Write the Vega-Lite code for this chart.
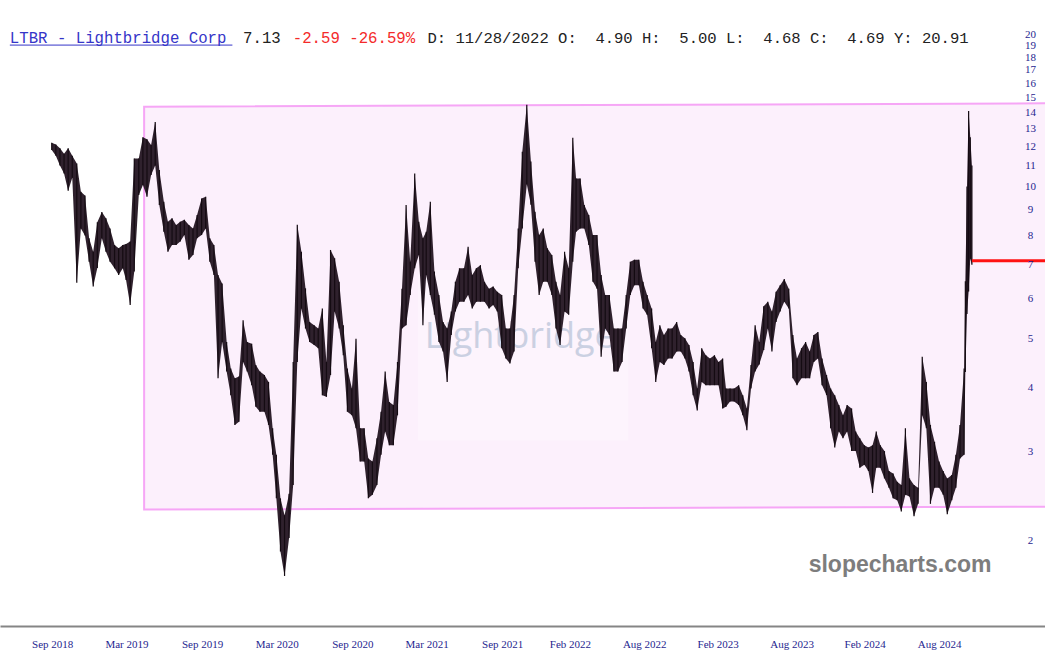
{
  "$schema": "https://vega.github.io/schema/vega-lite/v6.json",
  "width": 1045,
  "height": 626,
  "autosize": {"type": "none"},
  "padding": {"left": 0, "top": 0, "right": 0, "bottom": 41},
  "background": "white",
  "config": {"view": {"stroke": null}},
  "datasets": {
    "box": [
      {"d": "2019-04-14", "top": 14.37, "bot": 2.30},
      {"d": "2025-06-15", "top": 14.6, "bot": 2.33}
    ],
    "last": [{"d": "2024-10-20", "d2": "2025-04-16", "v": 7.13}],
    "px": [
      {"d":"2018-09-01","h":12.2,"l":11.8},{"d":"2018-09-11","h":12.1,"l":11.5},{"d":"2018-09-21","h":11.9,"l":11.0},
      {"d":"2018-10-01","h":11.6,"l":10.6},{"d":"2018-10-11","h":11.9,"l":9.8},{"d":"2018-10-21","h":11.5,"l":10.4},
      {"d":"2018-11-01","h":11.1,"l":6.45},{"d":"2018-11-11","h":9.76,"l":8.26},{"d":"2018-11-21","h":9.6,"l":8.0},
      {"d":"2018-12-01","h":7.9,"l":7.1},{"d":"2018-12-11","h":7.43,"l":6.34},{"d":"2018-12-21","h":8.5,"l":6.9},
      {"d":"2019-01-01","h":8.9,"l":7.9},{"d":"2019-01-11","h":8.65,"l":7.43},{"d":"2019-01-21","h":8.26,"l":7.1},
      {"d":"2019-02-01","h":7.66,"l":6.89},{"d":"2019-02-11","h":7.55,"l":6.68},{"d":"2019-02-21","h":7.66,"l":6.89},
      {"d":"2019-03-01","h":7.7,"l":6.53},{"d":"2019-03-11","h":7.78,"l":5.83},{"d":"2019-03-21","h":11.36,"l":6.79},
      {"d":"2019-04-01","h":11.36,"l":9.62},{"d":"2019-04-11","h":12.5,"l":10.06},{"d":"2019-04-21","h":12.4,"l":9.54},
      {"d":"2019-05-01","h":12.07,"l":10.53},{"d":"2019-05-11","h":13.4,"l":11.0},{"d":"2019-05-21","h":10.78,"l":9.19},
      {"d":"2019-06-01","h":9.33,"l":8.14},{"d":"2019-06-11","h":8.52,"l":7.43},{"d":"2019-06-21","h":8.65,"l":7.66},
      {"d":"2019-07-01","h":8.39,"l":7.66},{"d":"2019-07-11","h":8.52,"l":7.78},{"d":"2019-07-21","h":8.59,"l":8.02},
      {"d":"2019-08-01","h":8.39,"l":7.16},{"d":"2019-08-11","h":8.26,"l":7.32},{"d":"2019-08-21","h":8.78,"l":7.9},
      {"d":"2019-09-01","h":9.47,"l":8.02},{"d":"2019-09-11","h":9.54,"l":8.26},{"d":"2019-09-21","h":7.9,"l":7.1},
      {"d":"2019-10-01","h":7.66,"l":6.68},{"d":"2019-10-11","h":6.68,"l":4.18},{"d":"2019-10-21","h":6.43,"l":4.93},
      {"d":"2019-11-01","h":4.93,"l":4.31},{"d":"2019-11-11","h":4.37,"l":3.87},{"d":"2019-11-21","h":4.18,"l":3.38},
      {"d":"2019-12-01","h":4.21,"l":3.43},{"d":"2019-12-11","h":5.44,"l":4.5},{"d":"2019-12-21","h":4.93,"l":4.31},
      {"d":"2020-01-01","h":4.89,"l":4.05},{"d":"2020-01-11","h":4.44,"l":3.67},{"d":"2020-01-21","h":4.31,"l":3.59},
      {"d":"2020-02-01","h":4.24,"l":3.59},{"d":"2020-02-11","h":4.11,"l":3.38},{"d":"2020-02-21","h":3.33,"l":2.95},
      {"d":"2020-03-01","h":2.95,"l":2.42},{"d":"2020-03-11","h":2.42,"l":1.9},{"d":"2020-03-21","h":2.24,"l":1.7},
      {"d":"2020-04-01","h":2.47,"l":2.02},{"d":"2020-04-11","h":4.5,"l":2.57},{"d":"2020-04-21","h":8.4,"l":4.5},
      {"d":"2020-05-01","h":7.43,"l":5.74},{"d":"2020-05-11","h":6.29,"l":5.24},{"d":"2020-05-21","h":5.4,"l":4.93},
      {"d":"2020-06-01","h":5.32,"l":4.86},{"d":"2020-06-11","h":5.24,"l":4.79},{"d":"2020-06-21","h":5.74,"l":3.87},
      {"d":"2020-07-01","h":4.5,"l":3.84},{"d":"2020-07-11","h":7.49,"l":4.24},{"d":"2020-07-21","h":7.21,"l":5.66},
      {"d":"2020-08-01","h":6.48,"l":5.24},{"d":"2020-08-11","h":5.32,"l":4.64},{"d":"2020-08-21","h":4.37,"l":3.59},
      {"d":"2020-09-01","h":3.99,"l":3.53},{"d":"2020-09-11","h":5.0,"l":3.33},{"d":"2020-09-21","h":3.33,"l":2.86},
      {"d":"2020-10-01","h":3.33,"l":2.86},{"d":"2020-10-11","h":2.9,"l":2.42},{"d":"2020-10-21","h":2.86,"l":2.46},
      {"d":"2020-11-01","h":3.18,"l":2.57},{"d":"2020-11-11","h":3.59,"l":2.95},{"d":"2020-11-21","h":4.31,"l":3.28},
      {"d":"2020-12-01","h":3.75,"l":3.08},{"d":"2020-12-11","h":3.7,"l":3.08},{"d":"2020-12-21","h":4.5,"l":3.53},
      {"d":"2021-01-01","h":6.28,"l":5.24},{"d":"2021-01-11","h":9.19,"l":5.32},{"d":"2021-01-21","h":7.1,"l":6.1},
      {"d":"2021-02-01","h":10.6,"l":6.89},{"d":"2021-02-11","h":8.52,"l":7.32},{"d":"2021-02-21","h":7.9,"l":5.32},
      {"d":"2021-03-01","h":8.14,"l":6.68},{"d":"2021-03-11","h":9.33,"l":6.1},{"d":"2021-03-21","h":6.79,"l":5.58},
      {"d":"2021-04-01","h":6.1,"l":4.93},{"d":"2021-04-11","h":5.4,"l":4.72},{"d":"2021-04-21","h":5.24,"l":4.11},
      {"d":"2021-05-01","h":5.66,"l":5.09},{"d":"2021-05-11","h":6.48,"l":5.66},{"d":"2021-05-21","h":6.89,"l":5.92},
      {"d":"2021-06-01","h":6.89,"l":5.92},{"d":"2021-06-11","h":7.6,"l":6.1},{"d":"2021-06-21","h":6.68,"l":5.74},
      {"d":"2021-07-01","h":6.89,"l":5.92},{"d":"2021-07-11","h":6.99,"l":5.92},{"d":"2021-07-21","h":6.48,"l":5.92},
      {"d":"2021-08-01","h":6.28,"l":5.74},{"d":"2021-08-11","h":6.34,"l":5.83},{"d":"2021-08-21","h":6.19,"l":5.66},
      {"d":"2021-09-01","h":6.1,"l":4.79},{"d":"2021-09-11","h":5.24,"l":4.57},{"d":"2021-09-21","h":5.24,"l":4.47},
      {"d":"2021-10-01","h":6.1,"l":4.72},{"d":"2021-10-11","h":8.26,"l":6.89},{"d":"2021-10-21","h":11.71,"l":8.26},
      {"d":"2021-11-01","h":14.5,"l":10.1},{"d":"2021-11-11","h":11.2,"l":9.2},{"d":"2021-11-21","h":8.91,"l":7.1},
      {"d":"2021-12-01","h":8.02,"l":6.1},{"d":"2021-12-11","h":8.26,"l":6.48},{"d":"2021-12-21","h":7.55,"l":6.48},
      {"d":"2022-01-01","h":7.32,"l":6.1},{"d":"2022-01-11","h":6.48,"l":5.24},{"d":"2022-01-21","h":6.1,"l":4.86},
      {"d":"2022-02-01","h":7.43,"l":5.66},{"d":"2022-02-11","h":6.89,"l":5.58},{"d":"2022-02-21","h":12.48,"l":7.1},
      {"d":"2022-03-01","h":10.37,"l":8.14},{"d":"2022-03-11","h":10.37,"l":8.26},{"d":"2022-03-21","h":9.19,"l":8.26},
      {"d":"2022-04-01","h":8.78,"l":7.66},{"d":"2022-04-11","h":8.02,"l":6.48},{"d":"2022-04-21","h":8.02,"l":6.28},
      {"d":"2022-05-01","h":6.68,"l":4.61},{"d":"2022-05-11","h":6.1,"l":5.24},{"d":"2022-05-21","h":6.1,"l":5.09},
      {"d":"2022-06-01","h":5.24,"l":4.31},{"d":"2022-06-11","h":5.24,"l":4.31},{"d":"2022-06-21","h":5.24,"l":4.5},
      {"d":"2022-07-01","h":6.1,"l":5.24},{"d":"2022-07-11","h":7.1,"l":6.1},{"d":"2022-07-21","h":7.16,"l":6.38},
      {"d":"2022-08-01","h":7.16,"l":6.38},{"d":"2022-08-11","h":6.48,"l":5.74},{"d":"2022-08-21","h":6.1,"l":5.58},
      {"d":"2022-09-01","h":5.74,"l":4.79},{"d":"2022-09-11","h":4.93,"l":4.11},{"d":"2022-09-21","h":5.32,"l":4.5},
      {"d":"2022-10-01","h":5.09,"l":4.44},{"d":"2022-10-11","h":5.24,"l":4.57},{"d":"2022-10-21","h":5.24,"l":4.57},
      {"d":"2022-11-01","h":5.4,"l":4.72},{"d":"2022-11-11","h":5.09,"l":4.72},{"d":"2022-11-21","h":5.01,"l":4.57},
      {"d":"2022-12-01","h":4.86,"l":4.31},{"d":"2022-12-11","h":4.5,"l":3.87},{"d":"2022-12-21","h":3.99,"l":3.61},
      {"d":"2023-01-01","h":4.79,"l":4.11},{"d":"2023-01-11","h":4.64,"l":4.05},{"d":"2023-01-21","h":4.57,"l":4.05},
      {"d":"2023-02-01","h":4.64,"l":4.05},{"d":"2023-02-11","h":4.5,"l":4.05},{"d":"2023-02-21","h":4.57,"l":3.64},
      {"d":"2023-03-01","h":3.99,"l":3.67},{"d":"2023-03-11","h":3.99,"l":3.76},{"d":"2023-03-21","h":3.99,"l":3.76},
      {"d":"2023-04-01","h":4.05,"l":3.7},{"d":"2023-04-11","h":3.87,"l":3.53},{"d":"2023-04-21","h":3.64,"l":3.3},
      {"d":"2023-05-01","h":4.44,"l":3.99},{"d":"2023-05-11","h":5.32,"l":4.31},{"d":"2023-05-21","h":4.93,"l":4.45},
      {"d":"2023-06-01","h":5.8,"l":4.75},{"d":"2023-06-11","h":5.92,"l":5.24},{"d":"2023-06-21","h":5.66,"l":4.72},
      {"d":"2023-07-01","h":6.19,"l":5.4},{"d":"2023-07-11","h":6.38,"l":5.66},{"d":"2023-07-21","h":6.56,"l":5.92},
      {"d":"2023-08-01","h":6.28,"l":5.74},{"d":"2023-08-11","h":5.09,"l":4.18},{"d":"2023-08-21","h":4.57,"l":4.05},
      {"d":"2023-09-01","h":4.79,"l":4.18},{"d":"2023-09-11","h":4.93,"l":4.18},{"d":"2023-09-21","h":4.72,"l":4.18},
      {"d":"2023-10-01","h":5.09,"l":4.5},{"d":"2023-10-11","h":5.16,"l":4.57},{"d":"2023-10-21","h":4.57,"l":4.05},
      {"d":"2023-11-01","h":4.24,"l":3.87},{"d":"2023-11-11","h":3.99,"l":3.33},{"d":"2023-11-21","h":3.87,"l":3.05},
      {"d":"2023-12-01","h":3.7,"l":3.28},{"d":"2023-12-11","h":3.53,"l":3.18},{"d":"2023-12-21","h":3.7,"l":3.28},
      {"d":"2024-01-01","h":3.64,"l":3.0},{"d":"2024-01-11","h":3.28,"l":3.0},{"d":"2024-01-21","h":3.18,"l":2.78},
      {"d":"2024-02-01","h":3.08,"l":2.82},{"d":"2024-02-11","h":3.05,"l":2.74},{"d":"2024-02-21","h":3.08,"l":2.48},
      {"d":"2024-03-01","h":3.28,"l":2.78},{"d":"2024-03-11","h":3.08,"l":2.78},{"d":"2024-03-21","h":3.0,"l":2.65},
      {"d":"2024-04-01","h":2.74,"l":2.54},{"d":"2024-04-11","h":2.71,"l":2.42},{"d":"2024-04-21","h":2.61,"l":2.4},
      {"d":"2024-05-01","h":2.57,"l":2.28},{"d":"2024-05-11","h":3.33,"l":2.46},{"d":"2024-05-21","h":2.65,"l":2.44},
      {"d":"2024-06-01","h":2.57,"l":2.23},{"d":"2024-06-11","h":2.54,"l":2.36},{"d":"2024-06-21","h":4.61,"l":3.53},
      {"d":"2024-07-01","h":4.11,"l":3.33},{"d":"2024-07-11","h":3.38,"l":2.36},{"d":"2024-07-21","h":3.13,"l":2.54},
      {"d":"2024-08-01","h":2.86,"l":2.54},{"d":"2024-08-11","h":2.74,"l":2.46},{"d":"2024-08-21","h":2.65,"l":2.25},
      {"d":"2024-09-01","h":2.69,"l":2.4},{"d":"2024-09-11","h":2.95,"l":2.54},{"d":"2024-09-21","h":3.38,"l":2.9},
      {"d":"2024-10-01","h":4.37,"l":2.95},{"d":"2024-10-04","h":6.5,"l":4.3},{"d":"2024-10-08","h":10.0,"l":5.6},
      {"d":"2024-10-12","h":14.1,"l":6.2},{"d":"2024-10-16","h":12.5,"l":7.2},{"d":"2024-10-20","h":11.0,"l":7.0}
    ]
  },
  "layer": [
    {
      "data": {"name": "box"},
      "mark": {"type": "area", "fill": "#fcf0fc", "stroke": "#f6a6f6", "strokeWidth": 2, "clip": true},
      "encoding": {
        "x": {"field": "d", "type": "temporal",
          "scale": {"type": "utc", "domain": [{"year": 2018, "month": 4, "date": 28, "utc": true}, {"year": 2025, "month": 4, "date": 16, "utc": true}]},
          "axis": {"title": null, "labelExpr": "utcFormat(datum.value, '%b %Y')", "zindex": 2,
            "values": [
              {"year": 2018, "month": 9, "date": 2, "utc": true},
              {"year": 2019, "month": 3, "date": 2, "utc": true},
              {"year": 2019, "month": 9, "date": 2, "utc": true},
              {"year": 2020, "month": 3, "date": 2, "utc": true},
              {"year": 2020, "month": 9, "date": 2, "utc": true},
              {"year": 2021, "month": 3, "date": 2, "utc": true},
              {"year": 2021, "month": 9, "date": 2, "utc": true},
              {"year": 2022, "month": 2, "date": 14, "utc": true},
              {"year": 2022, "month": 8, "date": 14, "utc": true},
              {"year": 2023, "month": 2, "date": 9, "utc": true},
              {"year": 2023, "month": 8, "date": 8, "utc": true},
              {"year": 2024, "month": 2, "date": 2, "utc": true},
              {"year": 2024, "month": 8, "date": 1, "utc": true}
            ],
            "labelFont": "Liberation Serif", "labelFontSize": 11, "labelColor": "#1f1f8f",
            "ticks": false, "grid": false, "domainColor": "#858585", "domainWidth": 2,
            "labelPadding": 12, "labelOverlap": false, "labelFlush": false}},
        "y": {"field": "top", "type": "quantitative",
          "scale": {"type": "log", "domain": [1.354, 23.35], "nice": false},
          "axis": {"title": null, "orient": "right", "values": [2,3,4,5,6,7,8,9,10,11,12,13,14,15,16,17,18,19,20],
            "format": "d", "labelFont": "Liberation Serif", "labelFontSize": 11, "labelColor": "#1f1f8f", "zindex": 2,
            "ticks": false, "domain": false, "grid": false, "offset": -15, "labelPadding": 0,
            "labelAlign": "center", "labelOverlap": false, "labelFlush": false}},
        "y2": {"field": "bot"}
      }
    },
    {
      "data": {"values": [{}]},
      "mark": {"type": "rect", "fill": "white", "opacity": 0.3},
      "encoding": {
        "x": {"datum": {"year": 2021, "month": 2, "date": 9, "utc": true}, "type": "temporal", "scale": {"type": "utc"}},
        "x2": {"datum": {"year": 2022, "month": 7, "date": 6, "utc": true}},
        "y": {"datum": 6.84, "type": "quantitative", "scale": {"type": "log"}},
        "y2": {"datum": 3.15}
      }
    },
    {
      "data": {"values": [{}]},
      "mark": {"type": "text", "text": "Lightbridge", "font": "Open Sans", "fontSize": 36, "color": "#c6cde0", "opacity": 0.9, "align": "center", "baseline": "alphabetic"},
      "encoding": {
        "x": {"datum": {"year": 2021, "month": 10, "date": 15, "utc": true}, "type": "temporal", "scale": {"type": "utc"}},
        "y": {"datum": 4.79, "type": "quantitative", "scale": {"type": "log"}}
      }
    },
    {
      "data": {"name": "px"},
      "mark": {"type": "area", "color": "#2f212d"},
      "encoding": {
        "x": {"field": "d", "type": "temporal", "scale": {"type": "utc"}},
        "y": {"field": "h", "type": "quantitative", "scale": {"type": "log"}},
        "y2": {"field": "l"}
      }
    },
    {
      "data": {"name": "px"},
      "mark": {"type": "rule", "color": "#140b12", "strokeWidth": 1.2},
      "encoding": {
        "x": {"field": "d", "type": "temporal", "scale": {"type": "utc"}},
        "y": {"field": "h", "type": "quantitative", "scale": {"type": "log"}},
        "y2": {"field": "l"}
      }
    },
    {
      "data": {"name": "last"},
      "mark": {"type": "rule", "color": "#ff1212", "strokeWidth": 3},
      "encoding": {
        "x": {"field": "d", "type": "temporal", "scale": {"type": "utc"}},
        "x2": {"field": "d2"},
        "y": {"field": "v", "type": "quantitative", "scale": {"type": "log"}}
      }
    },
    {
      "data": {"values": [{}]},
      "mark": {"type": "text", "text": "LTBR - Lightbridge Corp", "font": "Liberation Mono", "fontSize": 15.7, "color": "#3535c8", "align": "left", "baseline": "alphabetic"},
      "encoding": {
        "x": {"datum": {"year": 2018, "month": 5, "date": 22, "utc": true}, "type": "temporal", "scale": {"type": "utc"}},
        "y": {"datum": 19.22, "type": "quantitative", "scale": {"type": "log"}}
      }
    },
    {
      "data": {"values": [{}]},
      "mark": {"type": "rule", "color": "#3535c8", "strokeWidth": 1},
      "encoding": {
        "x": {"datum": {"year": 2018, "month": 5, "date": 22, "utc": true}, "type": "temporal", "scale": {"type": "utc"}},
        "x2": {"datum": {"year": 2019, "month": 11, "date": 15, "utc": true}},
        "y": {"datum": 19.02, "type": "quantitative", "scale": {"type": "log"}}
      }
    },
    {
      "data": {"values": [{}]},
      "mark": {"type": "text", "text": "7.13", "font": "Liberation Mono", "fontSize": 15.7, "color": "#222222", "align": "left", "baseline": "alphabetic"},
      "encoding": {
        "x": {"datum": {"year": 2019, "month": 12, "date": 11, "utc": true}, "type": "temporal", "scale": {"type": "utc"}},
        "y": {"datum": 19.22, "type": "quantitative", "scale": {"type": "log"}}
      }
    },
    {
      "data": {"values": [{}]},
      "mark": {"type": "text", "text": "-2.59 -26.59%", "font": "Liberation Mono", "fontSize": 15.7, "color": "#f42a2a", "align": "left", "baseline": "alphabetic"},
      "encoding": {
        "x": {"datum": {"year": 2020, "month": 4, "date": 10, "utc": true}, "type": "temporal", "scale": {"type": "utc"}},
        "y": {"datum": 19.22, "type": "quantitative", "scale": {"type": "log"}}
      }
    },
    {
      "data": {"values": [{}]},
      "mark": {"type": "text", "text": "D: 11/28/2022 O:\u00a0\u00a04.90 H:\u00a0\u00a05.00 L:\u00a0\u00a04.68 C:\u00a0\u00a04.69 Y: 20.91", "font": "Liberation Mono", "fontSize": 15.55, "color": "#222222", "align": "left", "baseline": "alphabetic"},
      "encoding": {
        "x": {"datum": {"year": 2021, "month": 3, "date": 4, "utc": true}, "type": "temporal", "scale": {"type": "utc"}},
        "y": {"datum": 19.22, "type": "quantitative", "scale": {"type": "log"}}
      }
    },
    {
      "data": {"values": [{}]},
      "mark": {"type": "text", "text": "slopecharts.com", "font": "Liberation Sans", "fontWeight": "bold", "fontSize": 23, "color": "#7d7d7d", "align": "center", "baseline": "alphabetic"},
      "encoding": {
        "x": {"datum": {"year": 2024, "month": 4, "date": 28, "utc": true}, "type": "temporal", "scale": {"type": "utc"}},
        "y": {"datum": 1.73, "type": "quantitative", "scale": {"type": "log"}}
      }
    }
  ]
}
